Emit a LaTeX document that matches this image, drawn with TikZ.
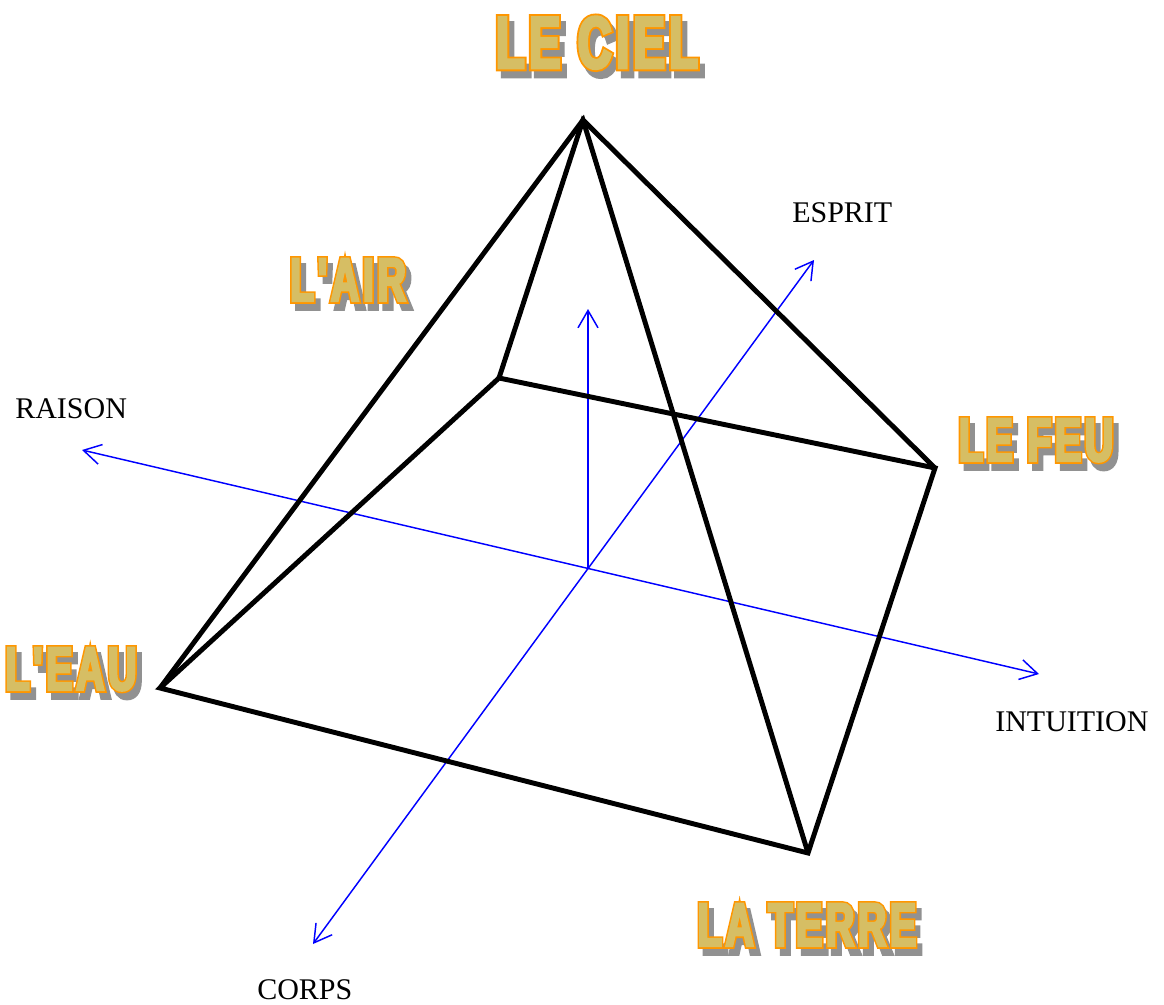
\documentclass[tikz,border=0pt]{standalone}
\usepackage{fontspec}
\setmainfont{Liberation Serif}
\newfontfamily\wafill[FakeStretch=0.64,FakeBold=4,LetterSpace=6]{Liberation Sans Bold}
\newfontfamily\waout[FakeStretch=0.64,FakeBold=9,LetterSpace=6]{Liberation Sans Bold}
\usetikzlibrary{arrows.meta,calc}
\definecolor{wgold}{RGB}{214,190,100}
\definecolor{worange}{RGB}{255,150,0}
\definecolor{wshade}{RGB}{145,145,145}
\definecolor{axisblue}{RGB}{0,0,255}
\tikzset{
  wa/.style={anchor=base,inner sep=0pt},
  edge/.style={line width=3.7pt,line join=miter,line cap=butt},
  axis/.style={draw=axisblue,line width=1.1pt},
  barb/.style={-{Straight Barb[length=13pt,width=15pt]}},
  barbs/.style={{Straight Barb[length=13pt,width=15pt]}-{Straight Barb[length=13pt,width=15pt]}},
  lbl/.style={inner sep=0pt,font=\fontsize{22.5}{27}\selectfont}
}
\newcommand{\wordart}[4]{%
  \node[wa,text=wshade] at ($(#2)+(5,7)$) {\waout\fontsize{#3}{#3}\selectfont #4};
  \node[wa,text=worange] at (#2) {\waout\fontsize{#3}{#3}\selectfont #4};
  \node[wa,text=wgold] (#1) at (#2) {\wafill\fontsize{#3}{#3}\selectfont #4};
}
\begin{document}
\begin{tikzpicture}[x=0.75pt,y=-0.75pt]
\useasboundingbox (0,0) rectangle (1164,1004);
% vertices
\coordinate (apex) at (583,120);
\coordinate (air) at (499,378);
\coordinate (feu) at (935,468);
\coordinate (eau) at (160,688);
\coordinate (terre) at (808,853);
% axes
\coordinate (O) at (588,568);
\coordinate (up) at (588,309);
\coordinate (raisonend) at (82,450);
\coordinate (intuend) at (1039,674);
\coordinate (espritend) at (814,260);
\coordinate (corpsend) at (313,944);
\draw[axis,barbs] (raisonend) -- (intuend);
\draw[axis,barbs] (espritend) -- (corpsend);
\draw[axis,barb] (O) -- (up);
% pyramid
\draw[edge] (air) -- (feu) -- (terre) -- (eau) -- cycle;
\draw[edge] (eau) -- (apex) -- (terre);
\draw[edge] (air) -- (apex) -- (feu);
% labels
\node[lbl,anchor=base west] (raison) at (15,418) {RAISON};
\node[lbl,anchor=base west] (esprit) at (792,222) {ESPRIT};
\node[lbl,anchor=base west] (intuition) at (995,731) {INTUITION};
\node[lbl,anchor=base west] (corps) at (257,999) {CORPS};
% word art
\coordinate (pciel) at (597,68);
\coordinate (pair) at (348,301);
\coordinate (peau) at (71,690);
\coordinate (pfeu) at (1036,461);
\coordinate (pterre) at (807,946);
\wordart{ciel}{pciel}{55}{LE CIEL}
\wordart{lair}{pair}{46}{L'AIR}
\wordart{leau}{peau}{46}{L'EAU}
\wordart{lefeu}{pfeu}{46}{LE FEU}
\wordart{laterre}{pterre}{46}{LA TERRE}
\end{tikzpicture}
\end{document}
